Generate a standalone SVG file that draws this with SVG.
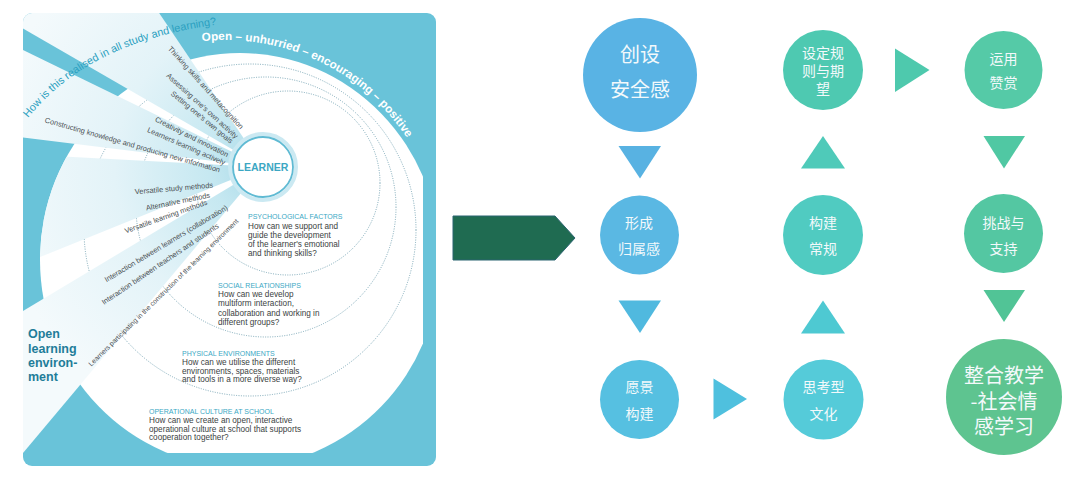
<svg xmlns="http://www.w3.org/2000/svg" width="1080" height="481" viewBox="0 0 1080 481">
<defs>
<clipPath id="panelClip"><rect x="23" y="13" width="413" height="453" rx="9"/></clipPath>
<clipPath id="innerClip"><rect x="36" y="26" width="387" height="427" rx="8"/></clipPath>
<clipPath id="diskClip"><ellipse cx="240" cy="260" rx="200" ry="207"/></clipPath>
<radialGradient id="wedgeGrad" gradientUnits="userSpaceOnUse" cx="263" cy="167" r="270">
<stop offset="0" stop-color="#a6d9e8"/>
<stop offset="0.2" stop-color="#c6e8f1"/>
<stop offset="0.55" stop-color="#e3f3f8"/>
<stop offset="1" stop-color="#f4fafc"/>
</radialGradient>
<path id="arcOpen" d="M 202.2,41.2 A 218 218 0 0 1 407.8,139.3"/>
<path id="arcHow" d="M 28,118 Q 90,40 222,24"/>
<style>
.rt{font-family:"Liberation Sans",Arial,sans-serif;font-size:7.4px;fill:#4a4f52;text-anchor:end;dominant-baseline:central}
.hd{font-family:"Liberation Sans",Arial,sans-serif;font-size:7px;fill:#3aa8c4}
.bd{font-family:"Liberation Sans",Arial,sans-serif;font-size:8.2px;fill:#3b3f42}
.ring{fill:none;stroke:#6f9fb0;stroke-width:0.9;stroke-dasharray:1 1.4}
.wedge{fill:url(#wedgeGrad)}
.cn{font-family:"Noto Sans CJK SC","Noto Sans CJK TC",sans-serif;fill:#f3f9fb;text-anchor:middle;dominant-baseline:central}
.s14{font-size:14px}
</style>
</defs>
<rect width="1080" height="481" fill="#ffffff"/>

<g id="learning-environment-panel">
<rect x="23" y="13" width="413" height="453" rx="9" fill="#69c3d9"/>
<g clip-path="url(#innerClip)">
<ellipse cx="240" cy="260" rx="200" ry="207" fill="#ffffff"/>
</g>
<g clip-path="url(#innerClip)">
<g clip-path="url(#diskClip)">
<circle class="ring" cx="288" cy="183" r="92"/>
<circle class="ring" cx="266" cy="207" r="130"/>
<circle class="ring" cx="250" cy="230" r="166"/>
</g>
</g>
<g clip-path="url(#panelClip)">
<polygon class="wedge" points="263,167 -100.7,-43 28.1,-181.2"/>
<polygon class="wedge" points="263,167 -153.9,115.8 -114.5,-17.1"/>
<polygon class="wedge" points="263,167 -7,488.7 -97,383"/>
<g clip-path="url(#diskClip)">
<polygon class="wedge" points="263,167 -126.4,324.3 -156.4,145"/>
</g>
</g>
<circle cx="263" cy="167" r="33" fill="none" stroke="#cbe9f2" stroke-width="4"/>
<circle cx="263" cy="167" r="30" fill="#ffffff" stroke="#5fbad3" stroke-width="1.8"/>
<text x="263" y="167" font-family="Liberation Sans, Arial, sans-serif" font-size="10.5" font-weight="bold" fill="#3ca7c3" text-anchor="middle" dominant-baseline="central">LEARNER</text>

<text font-family="Liberation Sans, Arial, sans-serif" font-size="10.8" fill="#2aa0c0"><textPath href="#arcHow">How is this realised in all study and learning?</textPath></text>
<text font-family="Liberation Sans, Arial, sans-serif" font-size="11.7" font-weight="bold" fill="#ffffff"><textPath href="#arcOpen">Open – unhurried – encouraging – positive</textPath></text>

<text class="rt" transform="translate(242,128) rotate(48)">Thinking skills and metacognition</text>
<text class="rt" transform="translate(237,137) rotate(42)">Assessing one's own activity</text>
<text class="rt" transform="translate(232,142) rotate(39.5)">Setting one's own goals</text>
<text class="rt" transform="translate(228,155) rotate(26.5)">Creativity and innovation</text>
<text class="rt" transform="translate(225,163) rotate(23.5)">Learners learning actively</text>
<text class="rt" transform="translate(220,170) rotate(16)">Constructing knowledge and producing new information</text>
<text class="rt" transform="translate(213,185) rotate(-5)">Versatile study methods</text>
<text class="rt" transform="translate(210,195) rotate(-11.5)">Alternative methods</text>
<text class="rt" transform="translate(207,202) rotate(-19.5)">Versatile learning methods</text>
<text class="rt" transform="translate(227,207) rotate(-31)">Interaction between learners (collaboration)</text>
<text class="rt" transform="translate(218,225) rotate(-34)">Interaction between teachers and students</text>
<text class="rt" style="font-size:6.8px" transform="translate(237,220) rotate(-44.5)">Learners participating in the construction of the learning environment</text>

<text class="hd" x="248" y="219.3">PSYCHOLOGICAL FACTORS</text>
<text class="bd" x="248" y="229">How can we support and</text>
<text class="bd" x="248" y="238">guide the development</text>
<text class="bd" x="248" y="247">of the learner's emotional</text>
<text class="bd" x="248" y="256">and thinking skills?</text>

<text class="hd" x="218" y="287.5">SOCIAL RELATIONSHIPS</text>
<text class="bd" x="218" y="297">How can we develop</text>
<text class="bd" x="218" y="306.3">multiform interaction,</text>
<text class="bd" x="218" y="315.7">collaboration and working in</text>
<text class="bd" x="218" y="325">different groups?</text>

<text class="hd" x="182" y="356">PHYSICAL ENVIRONMENTS</text>
<text class="bd" x="182" y="365.3">How can we utilise the different</text>
<text class="bd" x="182" y="373.7">environments, spaces, materials</text>
<text class="bd" x="182" y="382.3">and tools in a more diverse way?</text>

<text class="hd" x="149" y="414.2">OPERATIONAL CULTURE AT SCHOOL</text>
<text class="bd" x="149" y="423">How can we create an open, interactive</text>
<text class="bd" x="149" y="431.7">operational culture at school that supports</text>
<text class="bd" x="149" y="440.3">cooperation together?</text>

<g font-family="Liberation Sans, Arial, sans-serif" font-size="12.5" font-weight="bold" fill="#1f7d99">
<text x="28" y="338">Open</text>
<text x="28" y="352.5">learning</text>
<text x="28" y="367">environ-</text>
<text x="28" y="381">ment</text>
</g>
</g>

<g id="connectors">
<polygon points="453,216 555,216 575,238 555,260 453,260" fill="#1f6b51" stroke="#2b6470" stroke-width="1"/>
<polygon points="618.5,146 661,146 640,178.5" fill="#58b2e2"/>
<polygon points="618.5,300.5 661,300.5 640,333" fill="#50b9df"/>
<polygon points="713.5,378.5 747,399 713.5,419.5" fill="#4fc0de"/>
<polygon points="801,333.5 845,333.5 823,300.5" fill="#4ec9d2"/>
<polygon points="801,168.5 845,168.5 823,136" fill="#4fcab9"/>
<polygon points="895,48.5 929.5,70 895,92" fill="#4ec9ad"/>
<polygon points="983.5,136 1025,136 1004,168.5" fill="#50c8a3"/>
<polygon points="983.5,290 1025,290 1004,322" fill="#51c496"/>
</g>

<g id="node-chuangshe">
<circle cx="640" cy="75" r="57" fill="#59b3e4"/>
<text class="cn" x="640" y="53.5" font-size="20">创设</text>
<text class="cn" x="640" y="88.5" font-size="20">安全感</text>
</g>
<g id="node-xingcheng">
<circle cx="639.5" cy="235" r="39.5" fill="#5ab8e3"/>
<text class="cn s14" x="639" y="221.7">形成</text>
<text class="cn s14" x="639" y="248.3">归属感</text>
</g>
<g id="node-yuanjing">
<circle cx="639.5" cy="399.5" r="39.5" fill="#56c0e1"/>
<text class="cn s14" x="639.5" y="386">愿景</text>
<text class="cn s14" x="639.5" y="412.7">构建</text>
</g>
<g id="node-sikaoxing">
<circle cx="823.5" cy="399.5" r="40" fill="#55cbd9"/>
<text class="cn s14" x="823.5" y="386">思考型</text>
<text class="cn s14" x="823.5" y="412.7">文化</text>
</g>
<g id="node-goujian">
<circle cx="823" cy="235" r="40" fill="#50cbc1"/>
<text class="cn s14" x="823" y="221.7">构建</text>
<text class="cn s14" x="823" y="248.3">常规</text>
</g>
<g id="node-sheding">
<circle cx="823" cy="70" r="40" fill="#4ec9b1"/>
<text class="cn s14" x="823" y="52">设定规</text>
<text class="cn s14" x="823" y="70">则与期</text>
<text class="cn s14" x="823" y="88">望</text>
</g>
<g id="node-yunyong">
<circle cx="1003.5" cy="70" r="39" fill="#55caa7"/>
<text class="cn s14" x="1003.5" y="58.3">运用</text>
<text class="cn s14" x="1003.5" y="81.7">赞赏</text>
</g>
<g id="node-tiaozhan">
<circle cx="1003.5" cy="233.5" r="39.5" fill="#54c7a2"/>
<text class="cn s14" x="1003.5" y="221.7">挑战与</text>
<text class="cn s14" x="1003.5" y="248.3">支持</text>
</g>
<g id="node-zhenghe">
<circle cx="1004" cy="397" r="58" fill="#5ec490"/>
<text class="cn" x="1004" y="374.5" font-size="20">整合教学</text>
<text class="cn" x="1004" y="400" font-size="20">-社会情</text>
<text class="cn" x="1004" y="425.5" font-size="20">感学习</text>
</g>
</svg>
